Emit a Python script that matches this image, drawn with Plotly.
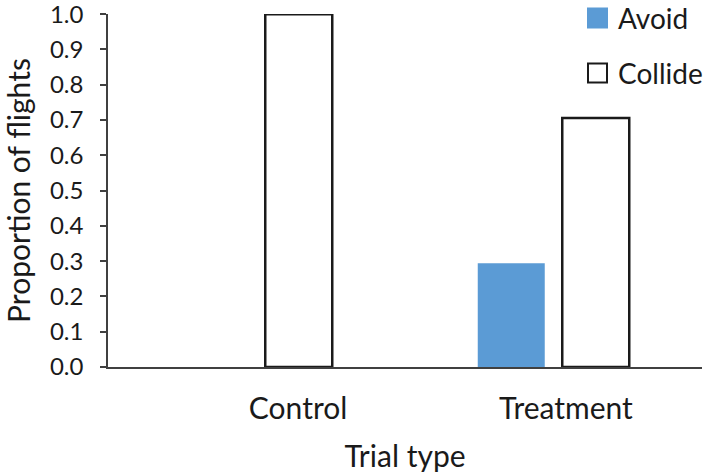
import plotly.graph_objects as go

categories = ["Control", "Treatment"]
category_pos = [0, 1]
label_pos = [0.14, 1.042]
series_names = ["Avoid", "Collide"]
avoid = [0.0, 0.294]
collide = [1.0, 0.706]
y_ticks = [0.0, 0.1, 0.2, 0.3, 0.4, 0.5, 0.6, 0.7, 0.8, 0.9, 1.0]

FONT = "Lato"
BLUE = "#5B9BD5"

fig = go.Figure()
fig.add_trace(go.Bar(x=category_pos, y=avoid, name=series_names[0],
                     marker=dict(color=BLUE, line=dict(width=0)),
                     cliponaxis=False, showlegend=False))
fig.add_trace(go.Bar(x=category_pos, y=collide, name=series_names[1],
                     marker=dict(color="white", line=dict(color="#1a1a1a", width=2.5)),
                     cliponaxis=False, showlegend=False))

fig.update_layout(
    width=708, height=475,
    margin=dict(l=108, r=6, t=14, b=108),
    paper_bgcolor="white", plot_bgcolor="white",
    barmode="group", bargap=0.431, bargroupgap=0.207,
    font=dict(family=FONT, color="#1a1a1a"),
    xaxis=dict(range=[-0.5, 1.5], tickvals=label_pos, ticktext=categories,
               showline=True, linecolor="#404040", linewidth=1.5,
               ticks="", showgrid=False, zeroline=False, automargin=False,
               tickfont=dict(size=30), ticklabelstandoff=14,
               title=dict(text="Trial type", font=dict(size=30), standoff=22)),
    yaxis=dict(range=[0, 1.0005], tickvals=y_ticks, tickformat=".1f",
               showline=True, linecolor="#404040", linewidth=1.5,
               ticks="outside", ticklen=6, tickcolor="#404040", tickwidth=1.5,
               showgrid=False, zeroline=False, automargin=False,
               ticklabeloverflow="allow",
               tickfont=dict(size=24), ticklabelstandoff=12,
               title=dict(text="Proportion of flights", font=dict(size=30), standoff=20)),
)

# manual legend
legend_y = [18, 73]
fills = [BLUE, "white"]
outlines = [BLUE, "#1a1a1a"]
for name, yc, fc, oc in zip(series_names, legend_y, fills, outlines):
    fig.add_shape(type="rect", xref="paper", yref="paper",
                  x0=(588 - 108) / 594, x1=(607 - 108) / 594,
                  y0=(367 - (yc - 9.5)) / 353, y1=(367 - (yc + 9.5)) / 353,
                  fillcolor=fc, line=dict(color=oc, width=2))
    fig.add_annotation(xref="paper", yref="paper",
                       x=(616 - 108) / 594, y=(367 - yc) / 353,
                       text=name, showarrow=False, xanchor="left", yanchor="middle",
                       font=dict(size=28, family=FONT, color="#1a1a1a"))

fig.write_html("out.html", config={"displayModeBar": False},
               post_script="document.body.style.margin='0';document.body.style.overflow='hidden';")
